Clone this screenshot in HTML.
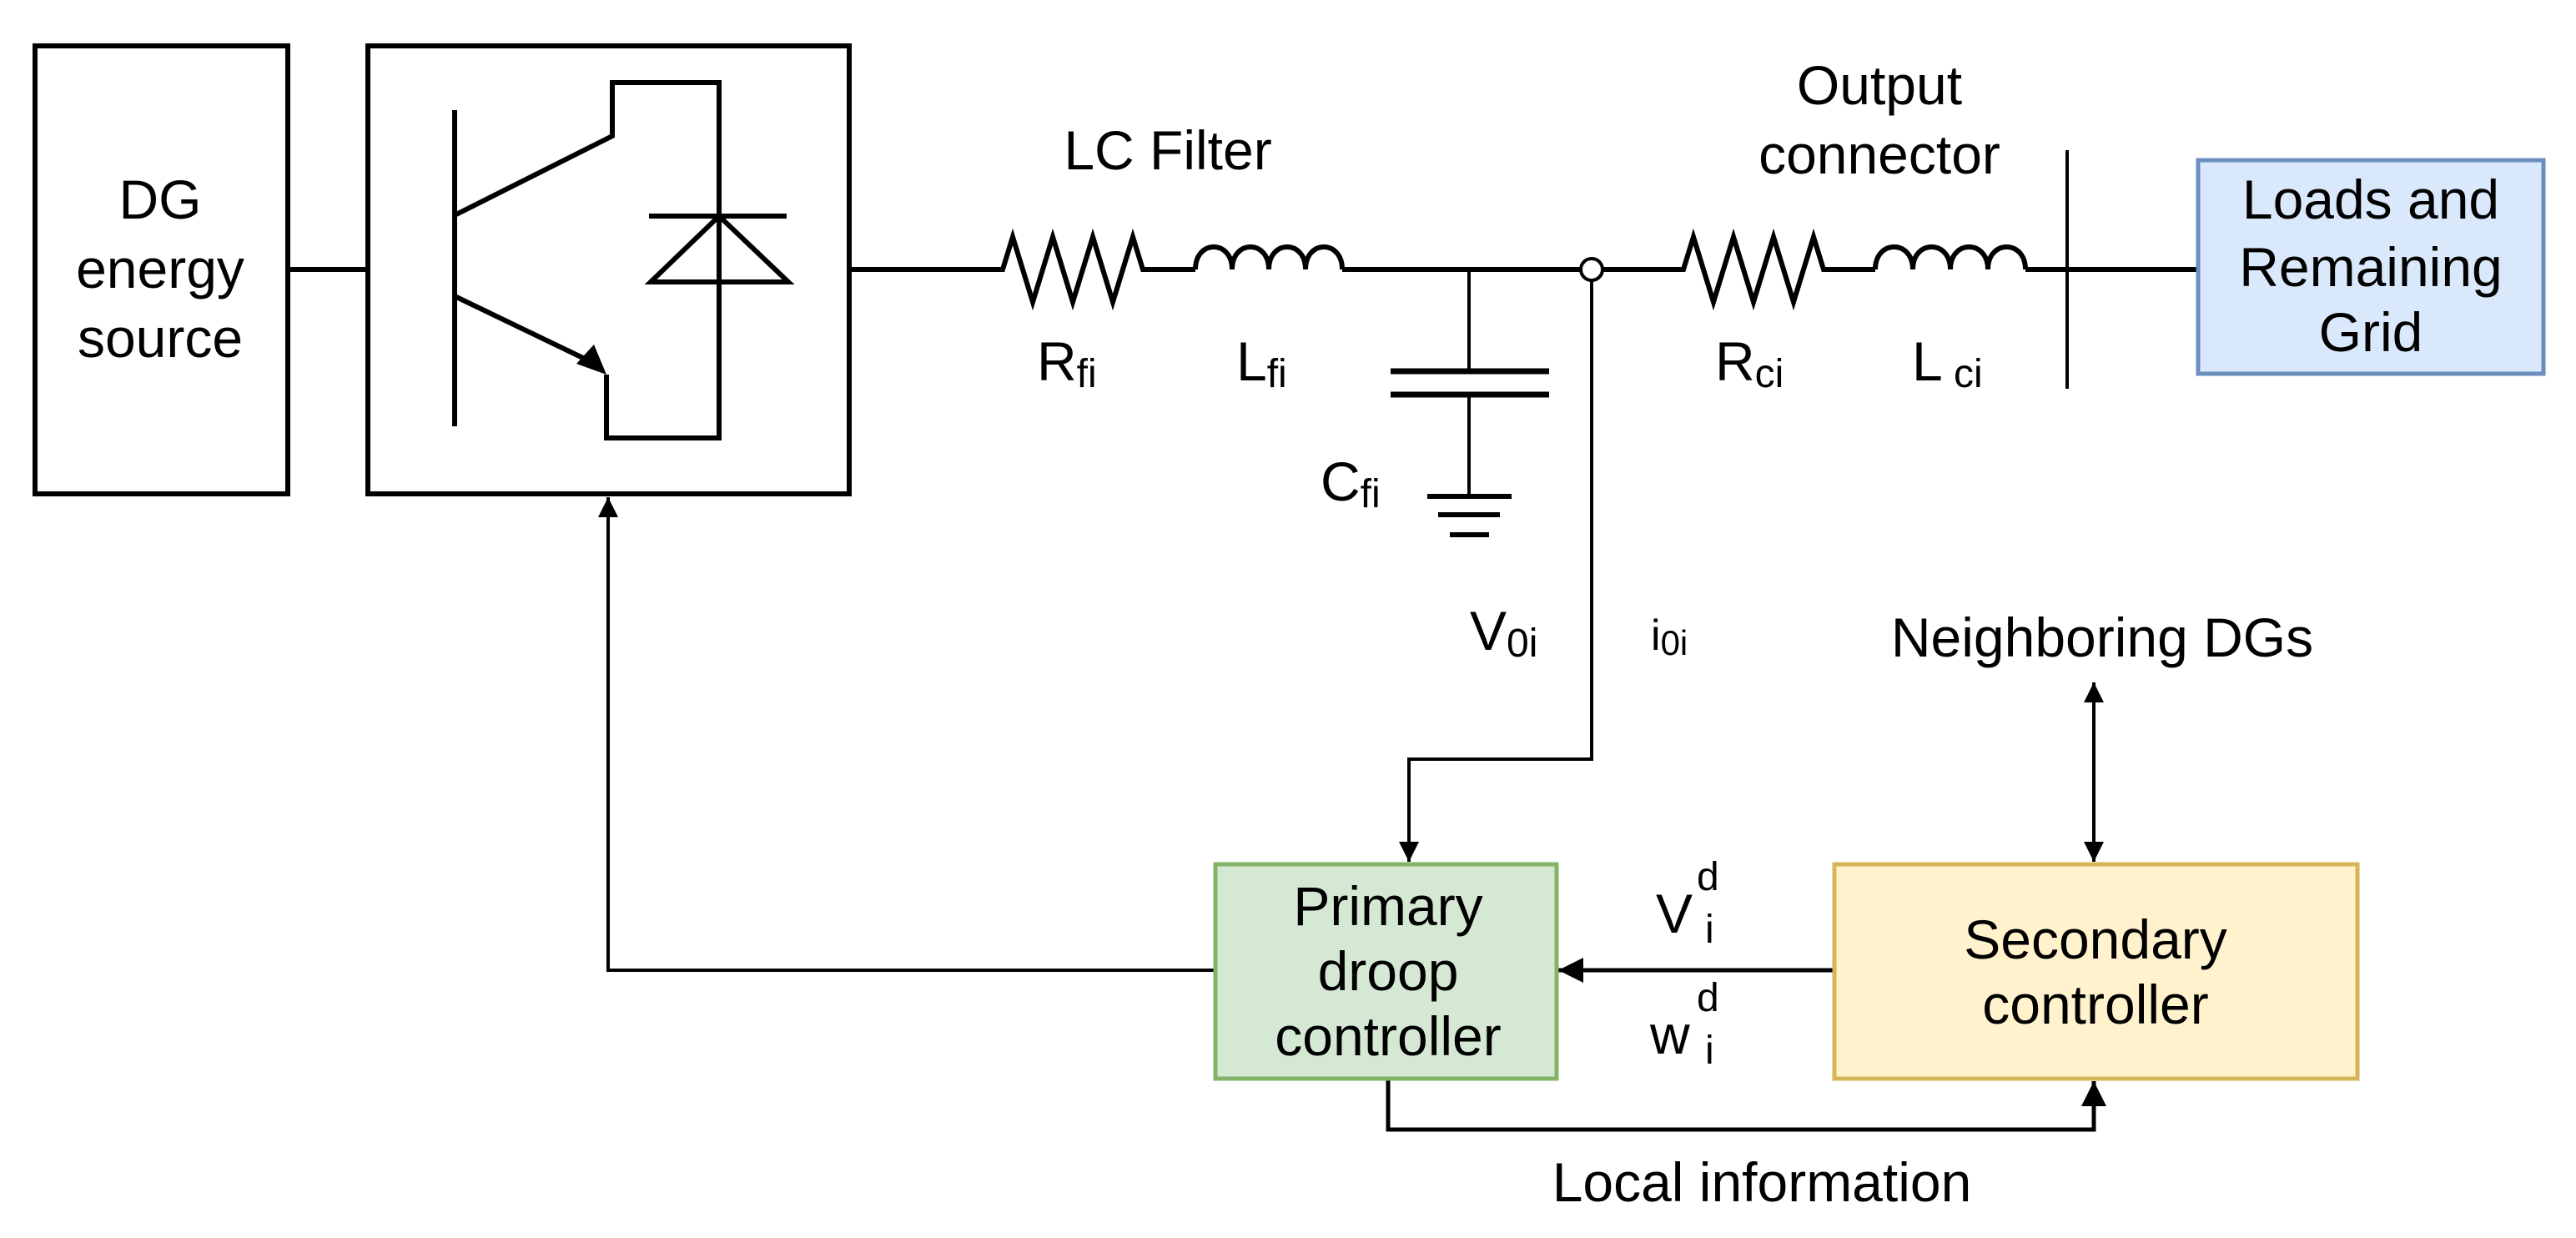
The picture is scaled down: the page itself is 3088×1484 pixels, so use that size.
<!DOCTYPE html>
<html><head><meta charset="utf-8"><style>
html,body{margin:0;padding:0;background:#fff}
svg{display:block}
text{font-family:"Liberation Sans",Arial,sans-serif;fill:#000}
</style></head><body>
<svg width="3088" height="1484" viewBox="0 0 3088 1484" xmlns="http://www.w3.org/2000/svg">
<defs>
<marker id="ah" viewBox="0 0 10 10" refX="10" refY="5" markerWidth="6" markerHeight="6" markerUnits="strokeWidth" orient="auto-start-reverse"><path d="M0,0 L10,5 L0,10 z" fill="#000"/></marker>
</defs>
<g fill="none" stroke="#000" stroke-width="6">
<rect x="42" y="55" width="303" height="537"/>
<rect x="441" y="55" width="577" height="537"/>
<line x1="345" y1="323" x2="441" y2="323"/>
<line x1="545" y1="132" x2="545" y2="511"/>
<polyline points="545,258 734,163 734,99 862,99 862,525 727,525 727,449"/>
<line x1="545" y1="355" x2="705" y2="432"/>
<line x1="778" y1="259" x2="943" y2="259"/>
<polygon points="862,259 780,338 945,338"/>
<polyline points="1018,323 1202,323 1214,284 1238,362 1262,284 1286,362 1310,284 1334,362 1358,284 1370,323 1433,323"/>
<path d="M1433,323 c0,-36 44,-36 44,0 c0,-36 44,-36 44,0 c0,-36 44,-36 44,0 c0,-36 44,-36 44,0"/>
<line x1="1609" y1="323" x2="1895" y2="323"/>
<circle cx="1908" cy="323" r="13" stroke-width="4"/>
<polyline points="1921,323 2018,323 2030,284 2054,362 2078,284 2102,362 2126,284 2150,362 2174,284 2186,323 2248,323"/>
<path d="M2248,323 c0,-36 45,-36 45,0 c0,-36 45,-36 45,0 c0,-36 45,-36 45,0 c0,-36 45,-36 45,0"/>
<line x1="2428" y1="323" x2="2635" y2="323"/>
<line x1="2478" y1="180" x2="2478" y2="466" stroke-width="4"/>
<line x1="1761" y1="323" x2="1761" y2="445" stroke-width="4"/>
<line x1="1667" y1="445" x2="1857" y2="445" stroke-width="7"/>
<line x1="1667" y1="473" x2="1857" y2="473" stroke-width="7"/>
<line x1="1761" y1="473" x2="1761" y2="595" stroke-width="4"/>
<line x1="1711" y1="595" x2="1812" y2="595" stroke-width="6"/>
<line x1="1724" y1="617" x2="1798" y2="617" stroke-width="6"/>
<line x1="1738" y1="641" x2="1785" y2="641" stroke-width="6"/>
<polyline points="1908,336 1908,910 1689,910 1689,1033" stroke-width="4" marker-end="url(#ah)"/>
<polyline points="1457,1163 729,1163 729,596" stroke-width="4" marker-end="url(#ah)"/>
<line x1="2199" y1="1163" x2="1868" y2="1163" stroke-width="5" marker-end="url(#ah)"/>
<line x1="2510" y1="818" x2="2510" y2="1033" stroke-width="4" marker-start="url(#ah)" marker-end="url(#ah)"/>
<polyline points="1664,1293 1664,1354 2510,1354 2510,1296" stroke-width="5" marker-end="url(#ah)"/>
</g>
<polygon points="727,449 691,436 712,413" fill="#000"/>
<rect x="2635" y="192" width="414" height="256" fill="#dae8fc" stroke="#6c8ebf" stroke-width="5"/>
<rect x="1457" y="1036" width="409" height="257" fill="#d5e8d4" stroke="#82b366" stroke-width="5"/>
<rect x="2199" y="1036" width="627" height="257" fill="#fff2cc" stroke="#d6b656" stroke-width="5"/>
<g font-size="66" text-anchor="middle">
<text x="192" y="262">DG</text>
<text x="192" y="345">energy</text>
<text x="192" y="428">source</text>
<text x="2842" y="262">Loads and</text>
<text x="2842" y="343">Remaining</text>
<text x="2842" y="421">Grid</text>
<text x="1664" y="1109">Primary</text>
<text x="1664" y="1187">droop</text>
<text x="1664" y="1265">controller</text>
<text x="2512" y="1149">Secondary</text>
<text x="2512" y="1227">controller</text>
<text x="1400" y="203">LC Filter</text>
<text x="2253" y="125">Output</text>
<text x="2253" y="208">connector</text>
<text x="2520" y="787">Neighboring DGs</text>
<text x="2112" y="1440">Local information</text>
</g>
<g font-size="66">
<text x="1243" y="456">R<tspan font-size="48" dy="8">fi</tspan></text>
<text x="1482" y="456">L<tspan font-size="48" dy="8">fi</tspan></text>
<text x="1583" y="600">C<tspan font-size="48" dy="8">fi</tspan></text>
<text x="2056" y="456">R<tspan font-size="48" dy="8">ci</tspan></text>
<text x="2292" y="456">L<tspan font-size="48" dy="8"> ci</tspan></text>
<text x="1762" y="779">V<tspan font-size="48" dy="8">0i</tspan></text>
<text x="1979" y="779" font-size="52">i<tspan font-size="42" dy="6">0i</tspan></text>
<text x="1985" y="1118">V</text>
<text x="2044" y="1130" font-size="48">i</text>
<text x="2034" y="1067" font-size="48">d</text>
<text x="1978" y="1263">w</text>
<text x="2044" y="1275" font-size="48">i</text>
<text x="2034" y="1212" font-size="48">d</text>
</g>
</svg>
</body></html>
